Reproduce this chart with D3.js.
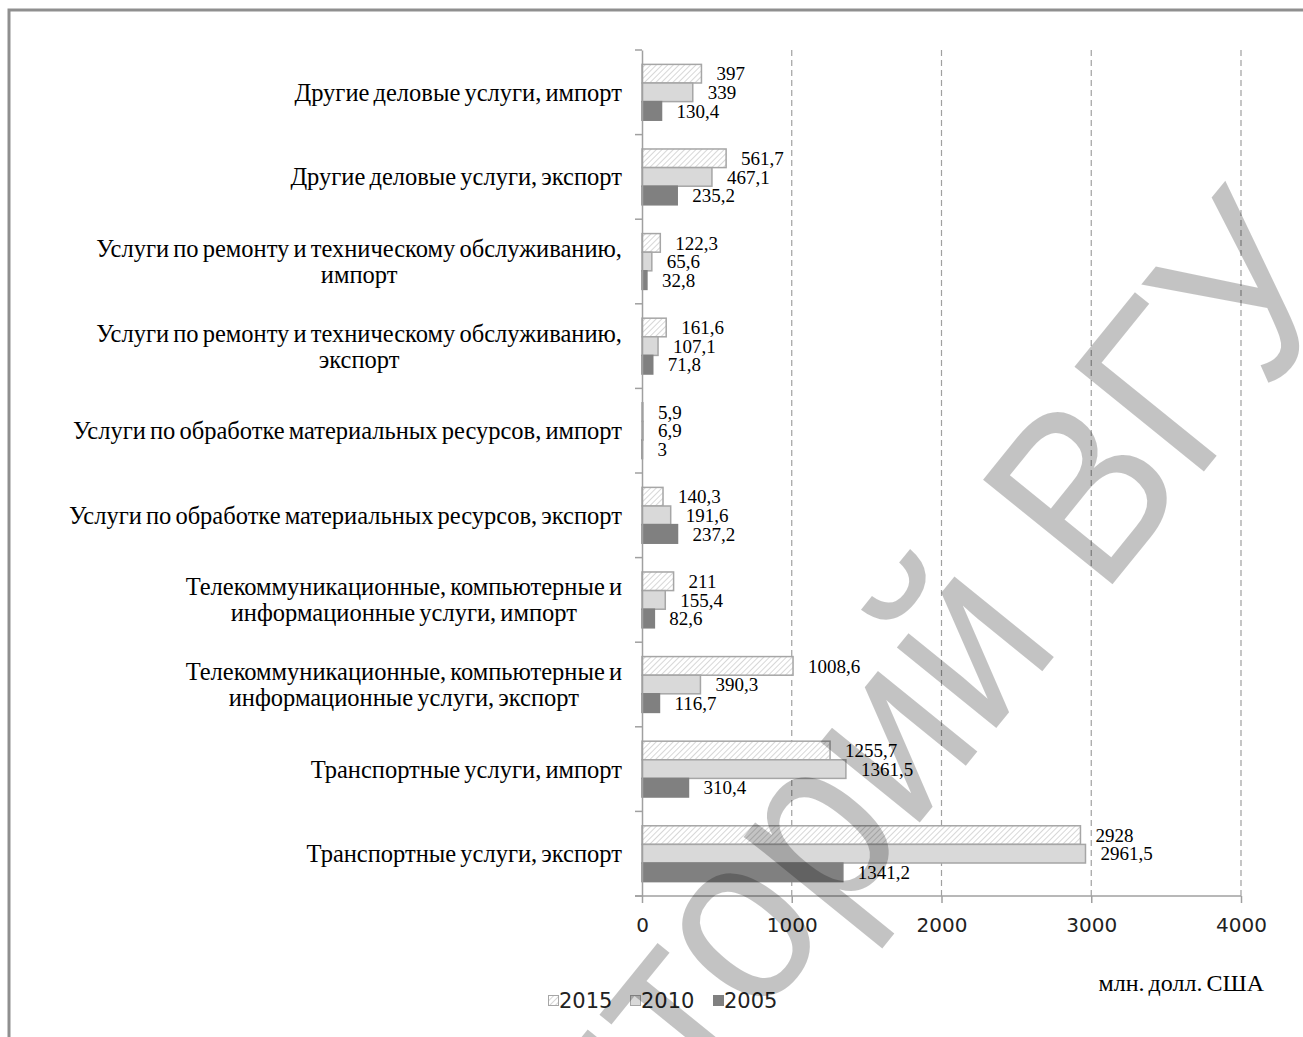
<!DOCTYPE html>
<html>
<head>
<meta charset="utf-8">
<script src="https://cdn.jsdelivr.net/npm/d3@7.9.0/dist/d3.min.js"></script>
<style>
  body { margin: 0; background: #fff; }
  svg { display: block; }
</style>
</head>
<body>
<svg id="chart" width="1303" height="1037"></svg>
<script>
// categories top to bottom, "\n" = line break
const categories = [
  "Другие деловые услуги, импорт",
  "Другие деловые услуги, экспорт",
  "Услуги по ремонту и техническому обслуживанию,\nимпорт",
  "Услуги по ремонту и техническому обслуживанию,\nэкспорт",
  "Услуги по обработке материальных ресурсов, импорт",
  "Услуги по обработке материальных ресурсов, экспорт",
  "Телекоммуникационные, компьютерные и\nинформационные услуги, импорт",
  "Телекоммуникационные, компьютерные и\nинформационные услуги, экспорт",
  "Транспортные услуги, импорт",
  "Транспортные услуги, экспорт"
];
const years = ["2015", "2010", "2005"];
const values2015 = [397, 561.7, 122.3, 161.6, 5.9, 140.3, 211, 1008.6, 1255.7, 2928];
const values2010 = [339, 467.1, 65.6, 107.1, 6.9, 191.6, 155.4, 390.3, 1361.5, 2961.5];
const values2005 = [130.4, 235.2, 32.8, 71.8, 3, 237.2, 82.6, 116.7, 310.4, 1341.2];
const xTicks = [0, 1000, 2000, 3000, 4000];
const unitLabel = "млн. долл. США";
const watermark = ["Репозиторий", "ВГУ"];

const seriesValues = { "2015": values2015, "2010": values2010, "2005": values2005 };

const svg = d3.select("#chart");
const serif = "'Liberation Serif', 'Times New Roman', serif";
const sans = "'DejaVu Sans', Verdana, sans-serif";
const axisColor = "#a0a0a0";

// outer frame (runs off the right and bottom edges)
svg.append("rect")
  .attr("x", 9).attr("y", 10)
  .attr("width", 1400).attr("height", 1100)
  .attr("fill", "none").attr("stroke", "#8f8f8f").attr("stroke-width", 3);

// hatch for 2015
const defs = svg.append("defs");
const pat = defs.append("pattern")
  .attr("id", "hatch").attr("patternUnits", "userSpaceOnUse")
  .attr("width", 4).attr("height", 4)
  .attr("patternTransform", "rotate(45)");
pat.append("rect").attr("width", 4).attr("height", 4).attr("fill", "#fff");
pat.append("line").attr("x1", 0).attr("y1", 0).attr("x2", 0).attr("y2", 4)
  .attr("stroke", "#bdbdbd").attr("stroke-width", 1.2);

const x = d3.scaleLinear().domain([0, 4000]).range([642, 1241]);
const y = d3.scaleBand().domain(categories).range([50, 896])
  .paddingInner(0.34).paddingOuter(0.17);
const ySub = d3.scaleBand().domain(years).range([0, y.bandwidth()]);

const fills = { "2015": "url(#hatch)", "2010": "#d9d9d9", "2005": "#808080" };
const strokes = { "2015": "#a6a6a6", "2010": "#a6a6a6", "2005": "#808080" };

// dashed gridlines
svg.append("g").selectAll("line")
  .data(xTicks.filter(d => d > 0))
  .join("line")
  .attr("x1", d => x(d)).attr("x2", d => x(d))
  .attr("y1", 50).attr("y2", 896)
  .attr("stroke", "#a0a0a0").attr("stroke-width", 1.2)
  .attr("stroke-dasharray", "6,4");

// bars
const groups = svg.append("g").selectAll("g")
  .data(categories)
  .join("g")
  .attr("transform", d => `translate(0,${y(d)})`);

groups.selectAll("rect")
  .data((c, i) => years.map(yr => ({ yr, v: seriesValues[yr][i] })))
  .join("rect")
  .attr("x", x(0))
  .attr("y", d => ySub(d.yr))
  .attr("width", d => x(d.v) - x(0))
  .attr("height", ySub.bandwidth())
  .attr("fill", d => fills[d.yr])
  .attr("stroke", d => strokes[d.yr])
  .attr("stroke-width", 1.5);

groups.selectAll("text")
  .data((c, i) => years.map(yr => ({ yr, v: seriesValues[yr][i] })))
  .join("text")
  .attr("x", d => x(d.v) + 15)
  .attr("y", d => ySub(d.yr) + ySub.bandwidth() / 2)
  .attr("dy", "0.35em")
  .attr("font-family", serif).attr("font-size", 19)
  .attr("fill", "#000")
  .text(d => String(d.v).replace(".", ","));

// y axis line with ticks at band boundaries
const yAxis = d3.axisLeft(y).tickSize(0).tickFormat("");
svg.append("g").attr("transform", `translate(${x(0)},0)`).call(yAxis)
  .call(g => g.select(".domain").attr("stroke", axisColor).attr("stroke-width", 1.5));
const bounds = categories.map(c => y(c) - y.step() * y.paddingInner() / 2);
bounds.push(896);
svg.append("g").selectAll("line").data(bounds).join("line")
  .attr("x1", x(0) - 7).attr("x2", x(0))
  .attr("y1", d => d).attr("y2", d => d)
  .attr("stroke", axisColor).attr("stroke-width", 1.5);

// category labels: block right-aligned, lines centred within the block
svg.append("g").selectAll("text")
  .data(categories)
  .join("text")
  .attr("font-family", serif).attr("font-size", 24.5)
  .attr("word-spacing", -2)
  .attr("text-anchor", "middle")
  .attr("fill", "#000")
  .each(function (d) {
    const lines = d.split("\n");
    const cy = y(d) + y.bandwidth() / 2;
    const lh = 26;
    const t = d3.select(this);
    const spans = t.selectAll("tspan").data(lines).join("tspan")
      .attr("y", (l, j) => cy + (j - (lines.length - 1) / 2) * lh)
      .attr("dy", "0.35em")
      .text(l => l);
    const maxW = d3.max(spans.nodes(), n => n.getComputedTextLength());
    spans.attr("x", 622 - maxW / 2);
  });

// x axis
const xAxis = d3.axisBottom(x).tickValues(xTicks).tickFormat(d3.format("d"))
  .tickSize(7).tickSizeOuter(0).tickPadding(15);
const xg = svg.append("g").attr("transform", "translate(0,896)").call(xAxis);
xg.select(".domain").attr("stroke", axisColor).attr("stroke-width", 1.5)
  .attr("d", `M${x(0) - 7},0H${x(4000)}`);
xg.selectAll(".tick line").attr("stroke", axisColor).attr("stroke-width", 1.5);
xg.selectAll(".tick text").attr("font-family", sans).attr("font-size", 20).attr("fill", "#222");

// unit label
svg.append("text")
  .attr("x", 1264).attr("y", 991)
  .attr("text-anchor", "end")
  .attr("font-family", serif).attr("font-size", 24)
  .attr("word-spacing", -2)
  .text(unitLabel);

// legend
const legendX = [548, 630, 713];
const leg = svg.append("g").selectAll("g").data(years).join("g")
  .attr("transform", (d, i) => `translate(${legendX[i]},995)`);
leg.append("rect").attr("x", 0.5).attr("y", 0.5).attr("width", 10).attr("height", 10)
  .attr("fill", d => fills[d]).attr("stroke", d => strokes[d]).attr("stroke-width", 1);
leg.append("text").attr("x", 11).attr("y", 13)
  .attr("font-family", sans).attr("font-size", 21).attr("fill", "#222")
  .text(d => d);

// watermark overlay
const wm = svg.append("g")
  .attr("transform", "translate(1112,585) rotate(-51) scale(0.9,1)")
  .attr("font-family", "'Liberation Sans', Arial, sans-serif")
  .attr("font-size", 242)
  .attr("fill", "#000").attr("fill-opacity", 0.235)
  .style("pointer-events", "none");
wm.append("text").attr("x", -86).attr("text-anchor", "end").text(watermark[0]);
wm.append("text").attr("x", -19).attr("text-anchor", "start").text(watermark[1]);
</script>
</body>
</html>
